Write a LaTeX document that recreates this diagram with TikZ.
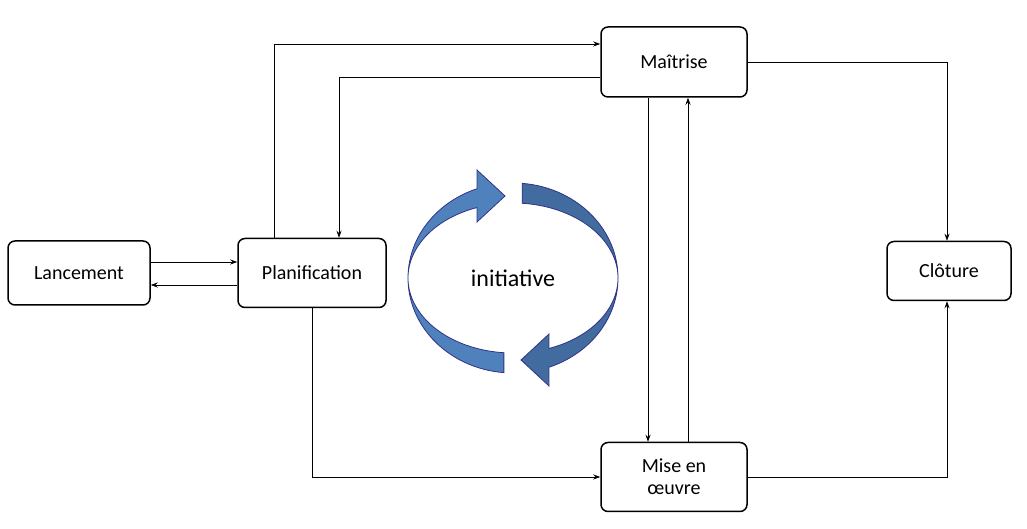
\documentclass[tikz,border=0pt]{standalone}
\usepackage{fontspec}
\setmainfont{Carlito}
\usetikzlibrary{arrows.meta}
\usetikzlibrary{calc}

\tikzset{
  phase/.style={draw, line width=1.5pt, rounded corners=7pt, align=center, font=\fontsize{20}{22}\selectfont},
  flow/.style={-{Stealth[length=7pt,width=5pt]}, line width=0.8pt},
  ribbon/.style={draw=blue!40!black!80, line width=0.8pt}
}

\begin{document}
\begin{tikzpicture}[x=1pt,y=1pt]
  % Boundary
  \path[use as bounding box] (0,0) rectangle (1027,529);
  % Phases
  \node[phase, minimum width=142, minimum height=64] (lanc) at (79,256) {Lancement};
  \node[phase, minimum width=148, minimum height=69] (plan) at (312,256) {Planification};
  \node[phase, minimum width=146, minimum height=70] (mait) at (674,467) {Maîtrise};
  \node[phase, minimum width=146, minimum height=69] (mise) at (674,52) {Mise en\\œuvre};
  \node[phase, minimum width=124, minimum height=59] (clot) at (949,258) {Clôture};
  % Cycle
  \coordinate (c) at (513,251);
  \filldraw[ribbon, fill={rgb,255:red,79;green,129;blue,189}]
    ($(c)+(265:105 and 95)$) arc[start angle=265, end angle=110, x radius=105, y radius=95]
    -- (477,359) -- (505,333) -- (477,307) -- ($(c)+(110:105 and 75)$)
    arc[start angle=110, end angle=265, x radius=105, y radius=75] -- cycle;
  \filldraw[ribbon, fill={rgb,255:red,66;green,108;blue,160}]
    ($(c)+(85:105 and 95)$) arc[start angle=85, end angle=-70, x radius=105, y radius=95]
    -- (549,143) -- (521,169) -- (549,195) -- ($(c)+(-70:105 and 75)$)
    arc[start angle=-70, end angle=85, x radius=105, y radius=75] -- cycle;
  \node[font=\fontsize{24}{26}\selectfont] (init) at (c) {initiative};
  % Links
  \draw[flow] ([yshift=11]lanc.east) -- ([yshift=11]lanc.east -| plan.west);
  \draw[flow] ([yshift=-12]plan.west) -- ([yshift=-12]plan.west -| lanc.east);
  \draw[flow] ([xshift=-38]plan.north) |- ([yshift=18]mait.west);
  \draw[flow] ([yshift=-15]mait.west) -| ([xshift=27]plan.north);
  \draw[flow] (plan.south) |- (mise.west);
  \draw[flow] ([xshift=-26]mait.south) -- ([xshift=-26]mise.north);
  \draw[flow] ([xshift=14]mise.north) -- ([xshift=14]mait.south);
  \draw[flow] (mait.east) -| ([xshift=-2]clot.north);
  \draw[flow] (mise.east) -| ([xshift=-2]clot.south);
\end{tikzpicture}
\end{document}
